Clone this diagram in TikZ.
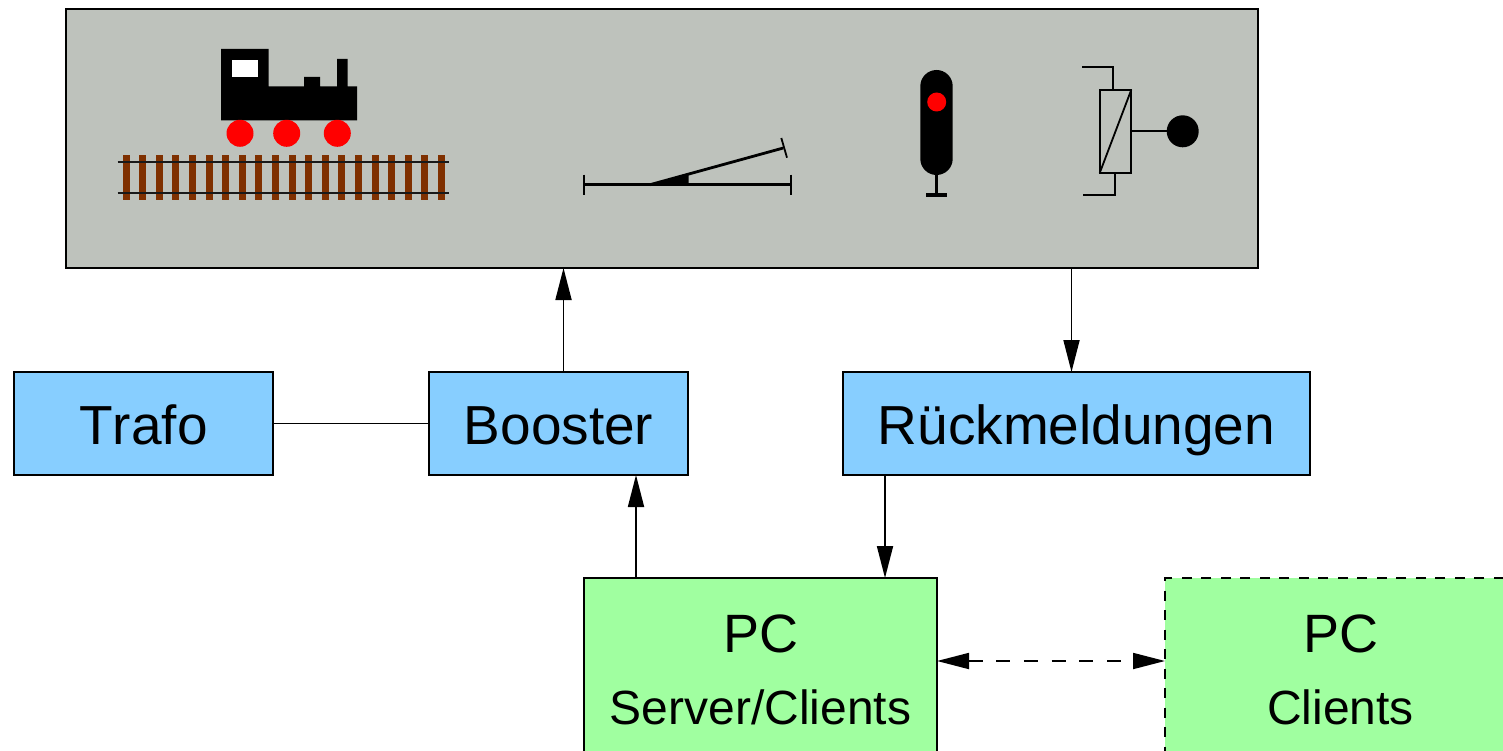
\documentclass[tikz,border=0pt]{standalone}
\usepackage{fontspec}
\setmainfont[Kerning=Off]{Liberation Sans}
\usetikzlibrary{arrows.meta,positioning}
\definecolor{layout}{HTML}{BEC2BC}
\definecolor{device}{HTML}{87CEFF}
\definecolor{computer}{HTML}{A0FFA0}
\definecolor{sleeper}{HTML}{7F3000}
\begin{document}
\begin{tikzpicture}[x=1pt,y=-1pt]
	\tikzstyle{box}=[rectangle, draw=black, line width=1.7pt, outer sep=0pt, inner sep=0pt]
	\tikzstyle{devicebox}=[box, fill=device, minimum height=103pt, text height=41pt, text depth=0pt, font=\fontsize{55}{60}\selectfont]
	\tikzstyle{pcbox}=[box, fill=computer, minimum height=260pt, anchor=north west]
	\tikzstyle{connect}=[-{Triangle[length=32pt,width=16pt]}, line width=1.8pt]
	\tikzstyle{plain}=[line width=1.8pt]
	\useasboundingbox (0,0) rectangle (1503,751);
	\node[box, fill=layout, minimum width=1192pt, minimum height=259pt] (hall) at (662,138.5) {};
	\node[devicebox, minimum width=259pt] (trafo) at (143.5,423.5) {Trafo};
	\node[devicebox, minimum width=259pt] (booster) [right=156pt of trafo] {Booster};
	\node[devicebox, minimum width=467pt] (rueck) [right=155pt of booster] {Rückmeldungen};
	\node[pcbox, minimum width=353pt] (pcserver) at (584,578) {};
	\node[pcbox, minimum width=400pt, dash pattern=on 10pt off 9.5pt] (pcclient) at (1165,578) {};
	\node[anchor=base, inner sep=0pt, font=\fontsize{54}{60}\selectfont] (pcservertitle) at (760.5,652) {PC};
	\node[anchor=base, inner sep=0pt, font=\fontsize{48}{54}\selectfont] (pcservername) at (760.5,724) {Server/Clients};
	\node[anchor=base, inner sep=0pt, font=\fontsize{54}{60}\selectfont] (pcclienttitle) at (1341,652) {PC};
	\node[anchor=base, inner sep=0pt, font=\fontsize{48}{54}\selectfont] (pcclientname) at (1340.5,724) {Clients};
	% connections
	\coordinate (pclink) at (1050,661);
	\draw[plain] (trafo) -- (booster);
	\draw[connect] ([xshift=5pt]booster.north) -- ([xshift=5pt]booster.north |- hall.south);
	\draw[connect] ([xshift=-5pt]rueck.north |- hall.south) -- ([xshift=-5pt]rueck.north);
	\draw[connect] ([xshift=-124.5pt]pcserver.north) -- ([xshift=-124.5pt]pcserver.north |- booster.south);
	\draw[connect] ([xshift=124.5pt]pcserver.north |- rueck.south) -- ([xshift=124.5pt]pcserver.north);
	\draw[connect, {Triangle[length=32pt,width=16pt]}-{Triangle[length=32pt,width=16pt]}, dash pattern=on 14pt off 13.7pt] (pclink -| pcserver.east) -- (pclink -| pcclient.west);
	% locomotive
	\fill[black] (221,49) -- (268.5,49) -- (268.5,86.5) -- (304,86.5) -- (304,77) -- (320,77) -- (320,86.5) -- (337,86.5) -- (337,59) -- (347.5,59) -- (347.5,86.5) -- (357,86.5) -- (357,120.5) -- (221,120.5) -- cycle;
	\fill[white] (231.7,60.3) rectangle (257.7,76.7);
	\foreach \wheelx in {240,286.7,337.3}
		\fill[red] (\wheelx,133.3) circle (13.5pt);
	% track
	\foreach \n in {0,...,19}
		\fill[sleeper] ({122.5+16.6*\n},155.3) rectangle ({129.5+16.6*\n},199.7);
	\draw[line width=1.8pt, black!90] (117.7,161.7) -- (449.3,161.7);
	\draw[line width=1.8pt, black!90] (117.7,193) -- (449.3,193);
	% switch
	\draw[line width=2.8pt] (584,184.7) -- (791.3,184.7);
	\draw[line width=1.8pt] (584,174.7) -- (584,195.3);
	\draw[line width=1.8pt] (791.3,174.7) -- (791.3,195.3);
	\draw[line width=2.8pt] (650,184.7) -- (783.3,148);
	\draw[line width=1.8pt] (781.3,138) -- (787,157.7);
	\fill[black] (650,185) -- (688.5,185) -- (688.5,173) -- cycle;
	% signal
	\fill[black, rounded corners=16.2pt] (920.3,70) rectangle (952.7,175);
	\fill[red] (936.7,102) circle (9.5pt);
	\draw[line width=2.8pt] (936.7,175) -- (936.7,195);
	\draw[line width=3.2pt] (926.3,195) -- (947,195);
	% contact
	\draw[plain] (1099.7,89.7) rectangle (1131.3,173);
	\draw[plain] (1099.7,173) -- (1131.3,89.7);
	\draw[plain] (1082,67.3) -- (1112.7,67.3) -- (1112.7,89.7);
	\draw[plain] (1083.3,195.3) -- (1114.7,195.3) -- (1114.7,173);
	\draw[plain] (1131.3,131.3) -- (1182.7,131.3);
	\fill[black] (1182.7,131.3) circle (16pt);
\end{tikzpicture}
\end{document}
